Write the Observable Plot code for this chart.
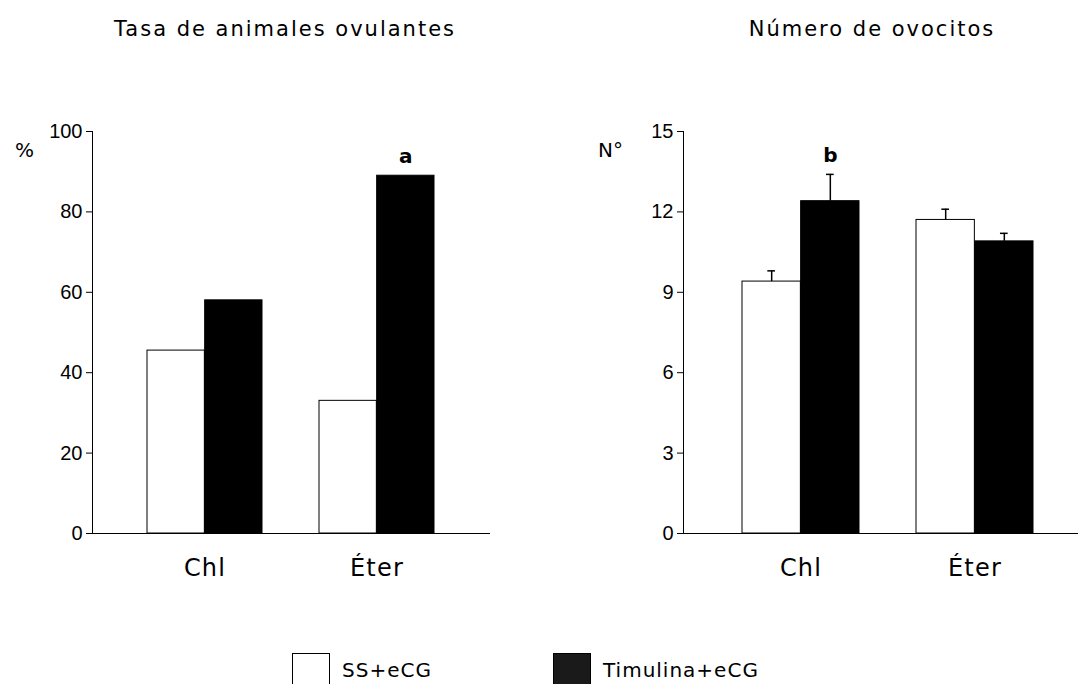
<!DOCTYPE html>
<html>
<head>
<meta charset="utf-8">
<script src="https://cdn.jsdelivr.net/npm/d3@7"></script>
<script src="https://cdn.jsdelivr.net/npm/@observablehq/plot@0.6"></script>
<style>
html, body { margin: 0; padding: 0; background: #fff; overflow: hidden; }
#page { position: relative; width: 1078px; height: 684px; overflow: hidden; font-family: "DejaVu Sans", Verdana, sans-serif; color: #000; }
.title { position: absolute; top: 17px; font-size: 21px; letter-spacing: 2px; white-space: nowrap; transform: translateX(-50%); }
.ylab { position: absolute; top: 138px; font-size: 20px; }
.panel { position: absolute; top: 100px; }
.panel svg { overflow: visible; max-width: none !important; }
.panel [aria-label^="y-axis"] text { font-family: "Liberation Sans", Arial, sans-serif; font-size: 20px; }
.panel [aria-label^="x-axis"] text { font-family: "DejaVu Sans", Verdana, sans-serif; font-size: 24px; letter-spacing: 1.2px; }
.legend { position: absolute; top: 653px; display: flex; align-items: flex-start; font-size: 20px; letter-spacing: 1px; }
.swatch { width: 38px; height: 40px; box-sizing: border-box; border: 1px solid #000; margin-right: 12px; }
.legend span { margin-top: 5px; }
</style>
</head>
<body>
<div id="page">
  <div class="title" style="left:285px">Tasa de animales ovulantes</div>
  <div class="title" style="left:872px">Número de ovocitos</div>
  <div class="ylab" style="left:15px">%</div>
  <div class="ylab" style="left:598px">N°</div>
  <div class="panel" id="left" style="left:0px"></div>
  <div class="panel" id="right" style="left:591px"></div>
  <div id="legend"></div>
</div>
<script>
// ---- data ----
const categories = ["Chl", "Éter"];
const treatments = ["SS+eCG", "Timulina+eCG"];
const treatmentColors = ["#ffffff", "#000000"];

// Tasa de animales ovulantes (%)
const rateSS = [45.5, 33];
const rateTim = [58, 89];
const rateSigSS = ["", ""];
const rateSigTim = ["", "a"];
const rateTicks = [0, 20, 40, 60, 80, 100];

// Número de ovocitos (mean ± error)
const oocyteSS = [9.4, 11.7];
const oocyteSSerr = [0.4, 0.4];
const oocyteTim = [12.4, 10.9];
const oocyteTimErr = [1.0, 0.3];
const oocyteSigSS = ["", ""];
const oocyteSigTim = ["b", ""];
const oocyteTicks = [0, 3, 6, 9, 12, 15];

// ---- tables ----
function buildRows(vals, errs, sigs, trt) {
  return categories.map((c, i) => ({cat: c, trt, value: vals[i], err: errs ? errs[i] : 0, sig: sigs[i]}));
}

function panel(ssVals, timVals, ssErr, timErr, ssSig, timSig, yDomain, yTicks, opts) {
  const ssRows = buildRows(ssVals, ssErr, ssSig, treatments[0]);
  const timRows = buildRows(timVals, timErr, timSig, treatments[1]);
  const marginLeft = 92, marginRight = opts.marginRight;
  const xOpts = {type: "band", domain: categories, paddingInner: opts.pi, paddingOuter: opts.po};
  const bw = Plot.scale({x: {...xOpts, range: [marginLeft, opts.width - marginRight]}}).bandwidth;
  const half = bw / 2, quarter = bw / 4, cap = 4;
  const withErr = !!(ssErr && timErr);
  const sides = [
    {rows: ssRows, barInset: {insetRight: half}, dx: -quarter, capInset: {insetLeft: quarter - cap, insetRight: 3 * quarter - cap}},
    {rows: timRows, barInset: {insetLeft: half}, dx: quarter, capInset: {insetLeft: 3 * quarter - cap, insetRight: quarter - cap}}
  ];
  const marks = [];
  for (const s of sides) {
    marks.push(Plot.barY(s.rows, {x: "cat", y: "value", fill: "trt", stroke: "#000", strokeWidth: 1, ...s.barInset}));
  }
  if (withErr) {
    for (const s of sides) {
      marks.push(Plot.ruleX(s.rows, {x: "cat", y1: "value", y2: d => d.value + d.err, dx: s.dx, stroke: "#000", strokeWidth: 1.5}));
      marks.push(Plot.tickY(s.rows, {x: "cat", y: d => d.value + d.err, stroke: "#000", strokeWidth: 1.5, ...s.capInset}));
    }
  }
  for (const s of sides) {
    marks.push(Plot.text(s.rows, {x: "cat", y: d => d.value + d.err, text: "sig", dx: s.dx, dy: -19, fontWeight: "bold", fontSize: 20, fontFamily: "DejaVu Sans, Verdana, sans-serif", fill: "#000"}));
  }
  return Plot.plot({
    width: opts.width,
    height: 493,
    marginLeft,
    marginRight,
    marginTop: 31,
    marginBottom: 60,
    style: {background: "transparent", color: "#000", fontFamily: "Liberation Sans, Arial, sans-serif", fontSize: "20px", overflow: "visible"},
    x: {...xOpts, axis: "bottom", tickSize: 0, tickPadding: 25, label: null, line: true},
    y: {domain: yDomain, ticks: yTicks, tickSize: 6, tickPadding: 4, label: null, line: true},
    color: {domain: treatments, range: treatmentColors},
    marks
  });
}

document.getElementById("left").appendChild(
  panel(rateSS, rateTim, null, null, rateSigSS, rateSigTim, [0, 100], rateTicks,
        {width: 529, marginRight: 40, pi: 0.331, po: 0.317})
);
document.getElementById("right").appendChild(
  panel(oocyteSS, oocyteTim, oocyteSSerr, oocyteTimErr, oocyteSigSS, oocyteSigTim, [0, 15], oocyteTicks,
        {width: 501, marginRight: 0, pi: 0.327, po: 0.337})
);

// legend
const legend = document.getElementById("legend");
const legendLefts = [292, 553];
treatments.forEach((t, i) => {
  const item = document.createElement("div");
  item.className = "legend";
  item.style.left = legendLefts[i] + "px";
  const sw = document.createElement("div");
  sw.className = "swatch";
  sw.style.background = i === 0 ? treatmentColors[0] : "#1a1a1a";
  const lab = document.createElement("span");
  lab.textContent = t;
  item.appendChild(sw);
  item.appendChild(lab);
  legend.appendChild(item);
});
</script>
</body>
</html>
